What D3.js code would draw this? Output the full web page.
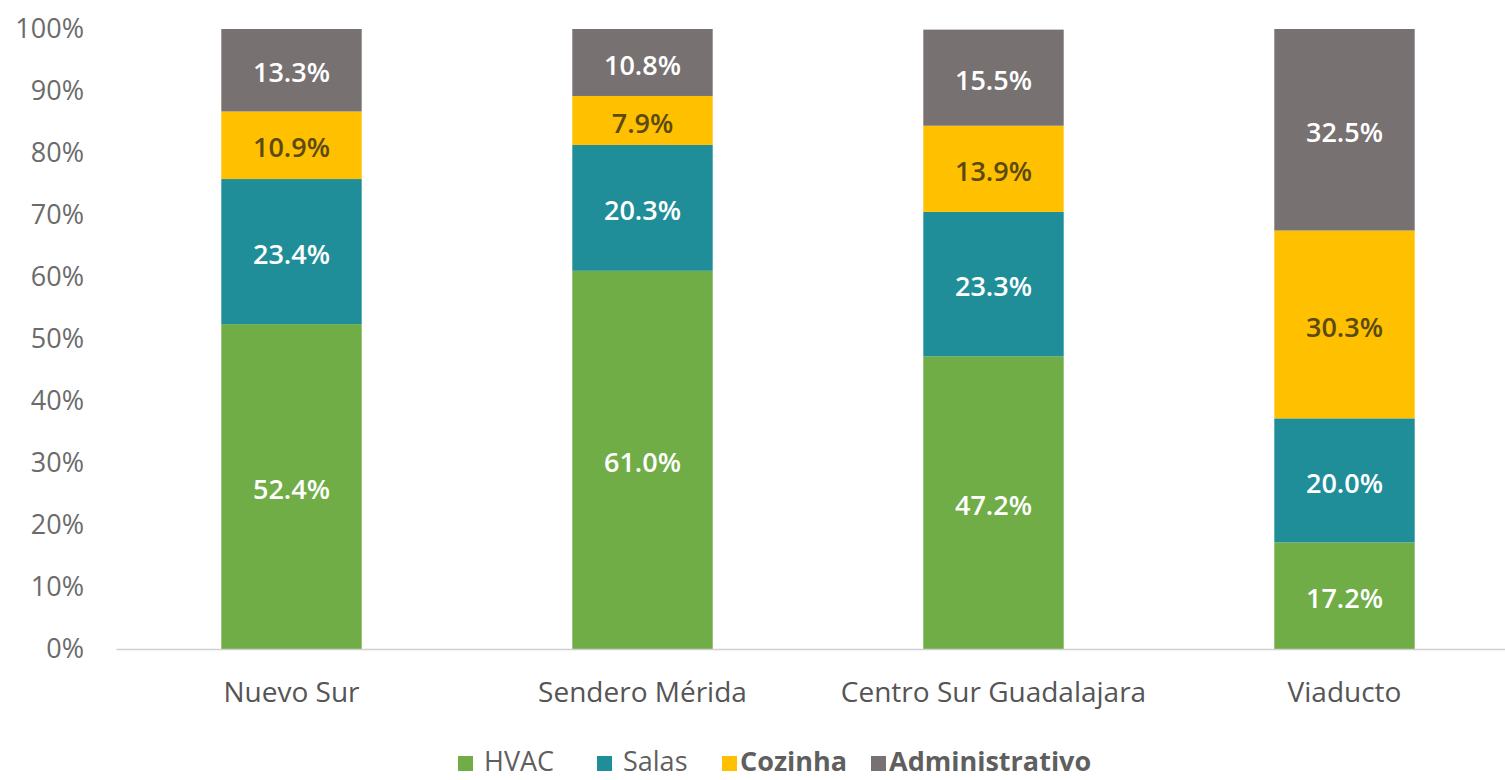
<!DOCTYPE html>
<html>
<head>
<meta charset="utf-8">
<script src="https://d3js.org/d3.v7.min.js"></script>
<style>
    body { margin: 0; background: #fff; }
    text { font-family: "Open Sans", sans-serif; }
</style>
</head>
<body>
<svg id="drawing_region"></svg>
<script>
const categories = ["Nuevo Sur", "Sendero Mérida", "Centro Sur Guadalajara", "Viaducto"];
const series = ["HVAC", "Salas", "Cozinha", "Administrativo"];
const hvac = [52.4, 61.0, 47.2, 17.2];
const salas = [23.4, 20.3, 23.3, 20.0];
const cozinha = [10.9, 7.9, 13.9, 30.3];
const administrativo = [13.3, 10.8, 15.5, 32.5];
const yticks = [0, 10, 20, 30, 40, 50, 60, 70, 80, 90, 100];

const colors = ["#70ad47", "#1f8e99", "#ffc000", "#777171"];
const label_colors = ["#ffffff", "#ffffff", "#5b4a12", "#ffffff"];

const data = categories.map( (c, i) => ({
    category: c,
    HVAC: hvac[i],
    Salas: salas[i],
    Cozinha: cozinha[i],
    Administrativo: administrativo[i]
}));

const config = {
    width: 1505,
    height: 780,
    margin: {top:29, right:-15, bottom:131, left:116}
};

const svg = d3.select('#drawing_region')
    .attr('width', config.width)
    .attr('height', config.height);

const chart = svg.append('g')
    .attr('transform', `translate(${config.margin.left}, ${config.margin.top})`);

const inner_width = config.width - config.margin.left - config.margin.right;
const inner_height = config.height - config.margin.top - config.margin.bottom;

const xscale = d3.scaleBand()
    .domain(categories)
    .range([0, inner_width])
    .paddingInner(0.6)
    .paddingOuter(0.3);

const yscale = d3.scaleLinear()
    .domain([0, 100])
    .range([inner_height, 0]);

const stacked = d3.stack().keys(series)(data);

// y axis labels (no line)
const yaxis = d3.axisLeft(yscale)
    .tickValues(yticks)
    .tickFormat(d => d + "%")
    .tickSize(0)
    .tickPadding(32);

const yaxis_group = chart.append('g').call(yaxis);
yaxis_group.select('.domain').remove();
yaxis_group.selectAll('text')
    .attr('font-family', '"Open Sans", sans-serif')
    .attr('font-size', '27px')
    .attr('fill', '#6b6b6b');

// bars
const layers = chart.selectAll('.layer')
    .data(stacked)
    .join('g')
    .attr('class', 'layer')
    .attr('fill', (d, i) => colors[i]);

layers.selectAll('rect')
    .data(d => d)
    .join('rect')
    .attr('x', d => xscale(d.data.category))
    .attr('y', d => yscale(d[1]))
    .attr('width', xscale.bandwidth())
    .attr('height', d => yscale(d[0]) - yscale(d[1]));

layers.each(function(layer, i) {
    d3.select(this).selectAll('text')
        .data(layer)
        .join('text')
        .attr('x', d => xscale(d.data.category) + xscale.bandwidth() / 2)
        .attr('y', d => yscale((d[0] + d[1]) / 2))
        .attr('dy', '0.45em')
        .attr('text-anchor', 'middle')
        .attr('font-size', '27px')
        .attr('font-weight', 600)
        .attr('fill', label_colors[i])
        .text(d => (d[1] - d[0]).toFixed(1) + "%");
});

// x axis
const xaxis = d3.axisBottom(xscale)
    .tickSize(0)
    .tickPadding(33);

const xaxis_group = chart.append('g')
    .attr('transform', `translate(0, ${inner_height})`)
    .call(xaxis);
xaxis_group.select('.domain')
    .attr('stroke', '#d0d0d0')
    .attr('stroke-width', 1.5);
xaxis_group.selectAll('text')
    .attr('font-family', '"Open Sans", sans-serif')
    .attr('font-size', '28px')
    .attr('fill', '#555555');

// legend
const legend_x = [458, 597, 722, 871];
const legend = svg.append('g')
    .attr('transform', 'translate(0, 771)');

const items = legend.selectAll('g')
    .data(series)
    .join('g')
    .attr('transform', (d, i) => `translate(${legend_x[i]}, 0)`);

items.append('rect')
    .attr('x', 0)
    .attr('y', -15)
    .attr('width', 15)
    .attr('height', 15)
    .attr('fill', (d, i) => colors[i]);

items.append('text')
    .attr('x', (d, i) => i >= 2 ? 18 : 26)
    .attr('y', 0)
    .attr('font-size', '27px')
    .attr('font-weight', (d, i) => i >= 2 ? 700 : 400)
    .attr('fill', '#5f5f5f')
    .text(d => d);
</script>
</body>
</html>
